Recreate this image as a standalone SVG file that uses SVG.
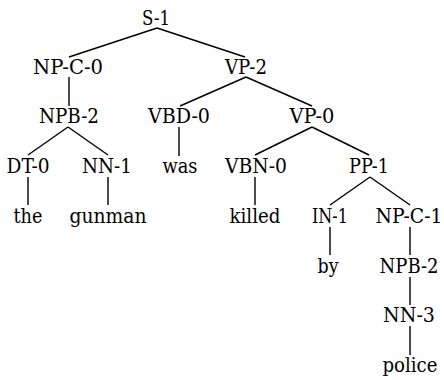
<svg xmlns="http://www.w3.org/2000/svg" width="444" height="380" viewBox="0 0 444 380">
<style>
text{font-family:"DejaVu Serif",serif;font-size:19.5px;fill:#000;text-anchor:middle}
.e line{stroke:#000;stroke-width:1.4}
</style>
<rect width="444" height="380" fill="#fff"/>
<g class="e" id="edges">
<line x1="157" y1="28" x2="69" y2="57"/>
<line x1="157" y1="28" x2="245" y2="57"/>
<line x1="69" y1="77" x2="69" y2="106"/>
<line x1="246" y1="77" x2="180" y2="106"/>
<line x1="246" y1="77" x2="312" y2="106"/>
<line x1="68" y1="127" x2="28" y2="155"/>
<line x1="68" y1="127" x2="108" y2="155"/>
<line x1="179" y1="127" x2="179" y2="156"/>
<line x1="312" y1="127" x2="255" y2="155"/>
<line x1="312" y1="127" x2="369" y2="155"/>
<line x1="28" y1="177" x2="28" y2="205"/>
<line x1="108" y1="177" x2="108" y2="205"/>
<line x1="255" y1="177" x2="255" y2="205"/>
<line x1="370" y1="177" x2="330" y2="205"/>
<line x1="370" y1="177" x2="410" y2="205"/>
<line x1="330" y1="227" x2="330" y2="255"/>
<line x1="410" y1="227" x2="410" y2="255"/>
<line x1="410" y1="277" x2="410" y2="305"/>
<line x1="410" y1="326" x2="410" y2="355"/>
</g>
<g id="n-S-1"><text x="156" y="25" textLength="28" lengthAdjust="spacingAndGlyphs">S-1</text></g>
<g id="n-NP-C-0"><text x="68" y="74" textLength="70" lengthAdjust="spacingAndGlyphs">NP-C-0</text></g>
<g id="n-VP-2"><text x="246" y="74" textLength="42" lengthAdjust="spacingAndGlyphs">VP-2</text></g>
<g id="n-NPB-2a"><text x="69" y="123" textLength="60" lengthAdjust="spacingAndGlyphs">NPB-2</text></g>
<g id="n-VBD-0"><text x="179" y="123" textLength="62" lengthAdjust="spacingAndGlyphs">VBD-0</text></g>
<g id="n-VP-0"><text x="312" y="123" textLength="45" lengthAdjust="spacingAndGlyphs">VP-0</text></g>
<g id="n-DT-0"><text x="28" y="173" textLength="43" lengthAdjust="spacingAndGlyphs">DT-0</text></g>
<g id="n-NN-1"><text x="107" y="173" textLength="50" lengthAdjust="spacingAndGlyphs">NN-1</text></g>
<g id="n-was"><text x="180" y="173" textLength="35" lengthAdjust="spacingAndGlyphs">was</text></g>
<g id="n-VBN-0"><text x="256" y="173" textLength="62" lengthAdjust="spacingAndGlyphs">VBN-0</text></g>
<g id="n-PP-1"><text x="369" y="173" textLength="40" lengthAdjust="spacingAndGlyphs">PP-1</text></g>
<g id="n-the"><text x="28" y="223" textLength="29" lengthAdjust="spacingAndGlyphs">the</text></g>
<g id="n-gunman"><text x="108" y="223" textLength="77" lengthAdjust="spacingAndGlyphs">gunman</text></g>
<g id="n-killed"><text x="255" y="223" textLength="51" lengthAdjust="spacingAndGlyphs">killed</text></g>
<g id="n-IN-1"><text x="330" y="223" textLength="36" lengthAdjust="spacingAndGlyphs">IN-1</text></g>
<g id="n-NP-C-1"><text x="409" y="223" textLength="67" lengthAdjust="spacingAndGlyphs">NP-C-1</text></g>
<g id="n-by"><text x="328" y="273" textLength="21" lengthAdjust="spacingAndGlyphs">by</text></g>
<g id="n-NPB-2b"><text x="409" y="273" textLength="59" lengthAdjust="spacingAndGlyphs">NPB-2</text></g>
<g id="n-NN-3"><text x="409" y="322" textLength="52" lengthAdjust="spacingAndGlyphs">NN-3</text></g>
<g id="n-police"><text x="410" y="372" textLength="55" lengthAdjust="spacingAndGlyphs">police</text></g>
</svg>
